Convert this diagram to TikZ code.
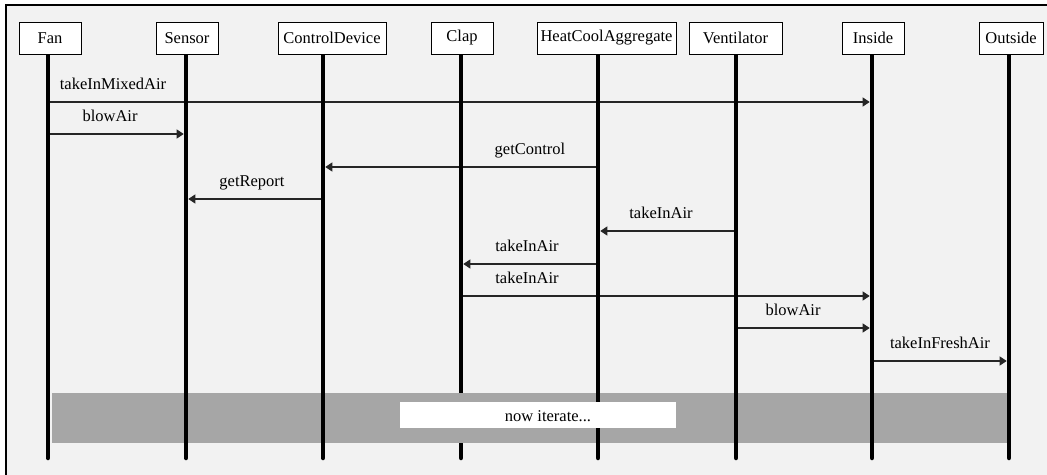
\documentclass[tikz,border=0pt]{standalone}
\usepackage{fontspec}
\setmainfont{Liberation Serif}
\usetikzlibrary{arrows.meta}
\definecolor{framebg}{HTML}{F2F2F2}
\definecolor{bandgray}{HTML}{A6A6A6}
\newcommand{\lblfont}{\fontsize{16.5}{19}\selectfont\rmfamily}
\begin{document}
\begin{tikzpicture}[x=1pt,y=-1pt,
  font=\lblfont,
  head/.style={draw=black, fill=white, line width=1pt, minimum height=32pt, inner sep=0pt, font=\lblfont},
  life/.style={line width=4.5pt, black, line cap=round},
  msg/.style={line width=1.2pt, black!85, shorten >=2.3pt, -{Triangle[length=7pt,width=9pt]}},
  lbl/.style={anchor=base, inner sep=0pt, font=\lblfont}]
\useasboundingbox (0,0) rectangle (1047,474);
\clip (0,0) rectangle (1047,474);
\fill[white] (0,0) rectangle (1047,474);
\draw[line width=2pt, fill=framebg] (6,5) rectangle (1070,500);

% lifeline coordinates
\foreach \n/\x in {Fan/48, Sensor/186, ControlDevice/323, Clap/461, HeatCoolAggregate/598, Ventilator/736, Inside/872, Outside/1009}{
  \coordinate (\n T) at (\x,54);
  \coordinate (\n B) at (\x,458);
}
% message rows
\coordinate (m1) at (0,102);
\coordinate (m2) at (0,134);
\coordinate (m3) at (0,167);
\coordinate (m4) at (0,199);
\coordinate (m5) at (0,231);
\coordinate (m6) at (0,264);
\coordinate (m7) at (0,296);
\coordinate (m8) at (0,328);
\coordinate (m9) at (0,361);

% messages
\draw[msg] (FanT |- m1) -- (InsideT |- m1);
\draw[msg] (FanT |- m2) -- (SensorT |- m2);
\draw[msg] (HeatCoolAggregateT |- m3) -- (ControlDeviceT |- m3);
\draw[msg] (ControlDeviceT |- m4) -- (SensorT |- m4);
\draw[msg] (VentilatorT |- m5) -- (HeatCoolAggregateT |- m5);
\draw[msg] (HeatCoolAggregateT |- m6) -- (ClapT |- m6);
\draw[msg] (ClapT |- m7) -- (InsideT |- m7);
\draw[msg] (VentilatorT |- m8) -- (InsideT |- m8);
\draw[msg] (InsideT |- m9) -- (OutsideT |- m9);

\node[lbl] (l1) at (113,89.5) {takeInMixedAir};
\node[lbl] (l2) at (110,121.5) {blowAir};
\node[lbl] (l3) at (530,154.5) {getControl};
\node[lbl] (l4) at (252,186.5) {getReport};
\node[lbl] (l5) at (661,218.5) {takeInAir};
\node[lbl] (l6) at (527,251.5) {takeInAir};
\node[lbl] (l7) at (527,283.5) {takeInAir};
\node[lbl] (l8) at (793,315.5) {blowAir};
\node[lbl] (l9) at (940,348.5) {takeInFreshAir};

% lifelines
\draw[life] (ClapT) -- (ClapB);
\fill[bandgray] (52,393) rectangle (1008,443);
\foreach \n in {Fan, Sensor, ControlDevice, HeatCoolAggregate, Ventilator, Inside, Outside}{
  \draw[life] (\n T) -- (\n B);
}
\node[fill=white, minimum width=276pt, minimum height=26pt, inner sep=0pt] (iter) at (538,415) {};
\node[lbl] (itertext) at (548,421) {now iterate...};

% header boxes
\node[head, minimum width=62pt] (Fan) at (50,38) {Fan};
\node[head, minimum width=62pt] (Sensor) at (187,38) {Sensor};
\node[head, minimum width=108pt] (ControlDevice) at (332,38) {ControlDevice};
\node[head, minimum width=62pt] (Clap) at (462,38) {Clap};
\node[head, minimum width=139pt] (HeatCoolAggregate) at (606.5,38) {HeatCoolAggregate};
\node[head, minimum width=93pt] (Ventilator) at (735.5,38) {Ventilator};
\node[head, minimum width=62pt] (Inside) at (873,38) {Inside};
\node[head, minimum width=64pt] (Outside) at (1011,38) {Outside};
\end{tikzpicture}
\end{document}
